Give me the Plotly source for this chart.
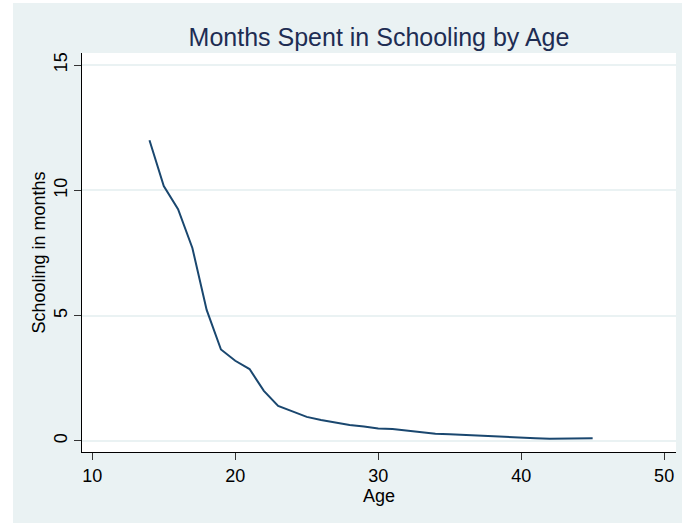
import plotly.graph_objects as go

ages = list(range(14, 46))
schooling = [12.0, 10.17, 9.25, 7.7, 5.23, 3.65, 3.2, 2.87, 2.0, 1.4,
             1.18, 0.96, 0.84, 0.73, 0.64, 0.58, 0.5, 0.48, 0.41, 0.35,
             0.29, 0.27, 0.24, 0.2, 0.18, 0.16, 0.14, 0.11, 0.09, 0.09,
             0.11, 0.11]
x_ticks = [10, 20, 30, 40, 50]
y_ticks = [0, 5, 10, 15]

BG = "#EAF2F3"
FONT = "Arial, Liberation Sans, sans-serif"

fig = go.Figure()
fig.add_trace(go.Scatter(x=ages, y=schooling, mode="lines",
                         line=dict(color="#1A476F", width=2), showlegend=False))

W, H = 682, 523
ml, mr, mt, mb = 82, 6, 53, 71
pw, ph = W - ml - mr, H - mt - mb

def px(xp):
    return (xp - ml) / pw

def py(yp):
    return (H - mb - yp) / ph

fig.update_layout(
    width=W, height=H,
    margin=dict(l=ml, r=mr, t=mt, b=mb, pad=0),
    paper_bgcolor=BG, plot_bgcolor="white",
    font=dict(family=FONT, color="#000000"),
    title=dict(text="Months Spent in Schooling by Age", xref="container", x=379 / W, xanchor="center",
               yref="container", y=1 - 37 / H, yanchor="middle",
               font=dict(size=25, color="#1E2D53", family=FONT)),
    xaxis=dict(range=[9.28, 50.83], tickvals=x_ticks, showgrid=False, zeroline=False,
               showline=True, linecolor="#000000", linewidth=1,
               ticks="outside", ticklen=7, tickcolor="#333333",
               tickfont=dict(size=18), title=dict(text="Age", font=dict(size=18), standoff=0)),
    yaxis=dict(range=[-0.44, 15.48], tickvals=y_ticks, showgrid=True, gridcolor=BG, gridwidth=1.5,
               zeroline=False, showline=True, linecolor="#000000", linewidth=1,
               ticks="outside", ticklen=7, tickcolor="#333333", tickangle=-90,
               tickfont=dict(size=18), title=dict(text="Schooling in months", font=dict(size=18), standoff=0)),
    shapes=[
        dict(type="rect", xref="paper", yref="paper", x0=px(0), x1=px(13), y0=py(H), y1=py(0),
             fillcolor="white", line=dict(width=0), layer="below"),
        dict(type="rect", xref="paper", yref="paper", x0=px(0), x1=px(W), y0=py(3), y1=py(0),
             fillcolor="white", line=dict(width=0), layer="below"),
    ],
)

fig.write_html("out.html", config={"displayModeBar": False},
               post_script="document.body.style.margin='0';document.body.style.overflow='hidden';")
